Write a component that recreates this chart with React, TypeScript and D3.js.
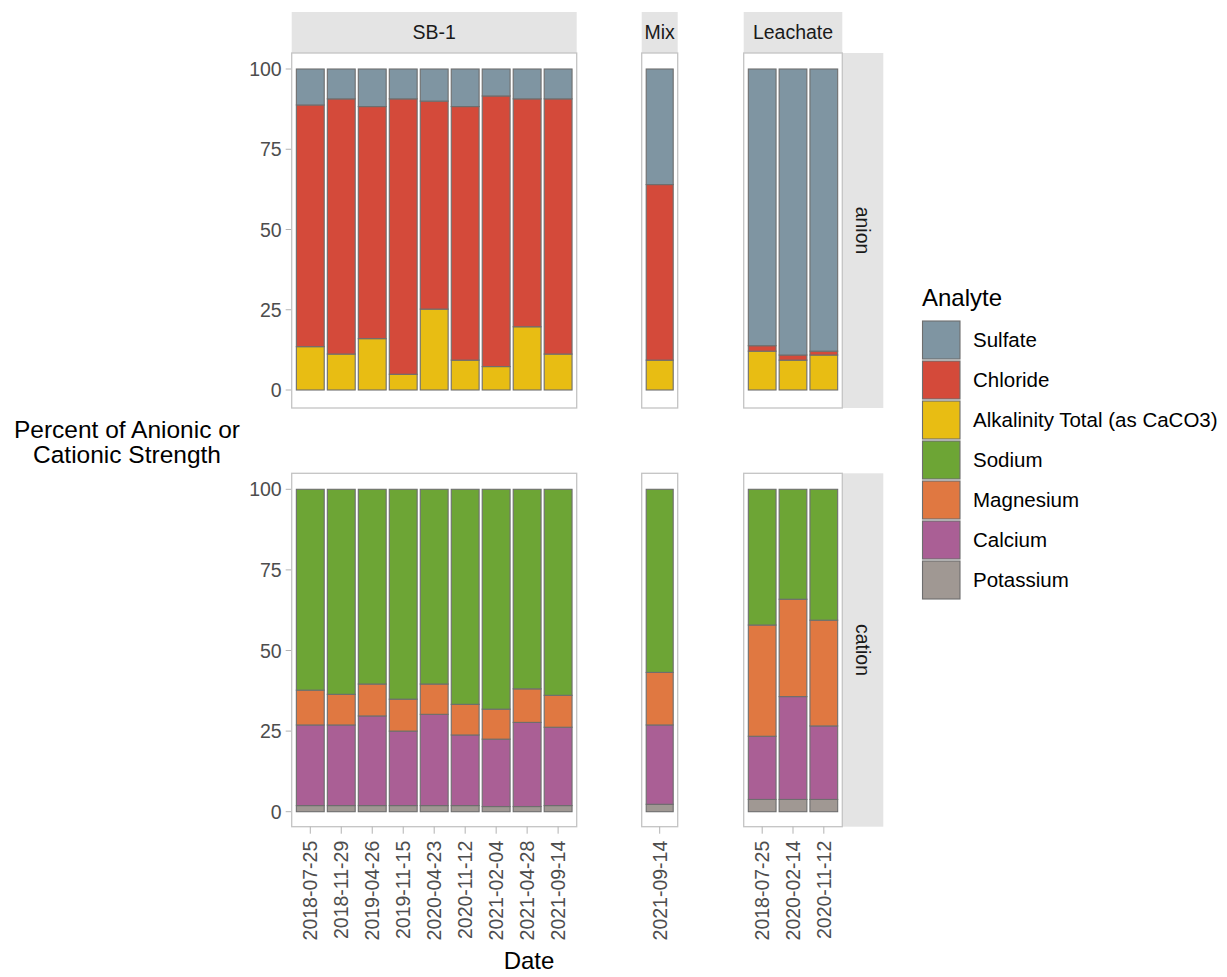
import React from "react";
import * as d3 from "d3";

// bar order (left to right): 9 SB-1 dates, 1 Mix date, 3 Leachate dates
const sites = ["SB-1", "Mix", "Leachate"];
const siteOf = ["SB-1", "SB-1", "SB-1", "SB-1", "SB-1", "SB-1", "SB-1", "SB-1", "SB-1", "Mix", "Leachate", "Leachate", "Leachate"];
const dates = [
  "2018-07-25", "2018-11-29", "2019-04-26", "2019-11-15", "2020-04-23", "2020-11-12", "2021-02-04", "2021-04-28", "2021-09-14",
  "2021-09-14",
  "2018-07-25", "2020-02-14", "2020-11-12",
];

// anion percentages
const alkalinity = [13.5, 11.2, 16.0, 4.9, 25.2, 9.3, 7.3, 19.7, 11.2, 9.3, 12.1, 9.3, 10.9];
const chloride = [75.3, 79.5, 72.3, 85.8, 64.8, 79.0, 84.3, 71.0, 79.5, 54.7, 1.7, 1.6, 1.2];
const sulfate = [11.2, 9.3, 11.7, 9.3, 10.0, 11.7, 8.4, 9.3, 9.3, 36.0, 86.2, 89.1, 87.9];

// cation percentages
const potassium = [1.9, 1.9, 1.9, 1.9, 1.9, 1.9, 1.6, 1.6, 1.9, 2.3, 3.8, 3.8, 3.8];
const calcium = [25.0, 25.0, 27.8, 23.1, 28.3, 21.9, 20.9, 26.1, 24.3, 24.6, 19.6, 31.9, 22.8];
const magnesium = [10.8, 9.5, 9.9, 9.9, 9.4, 9.5, 9.3, 10.4, 9.9, 16.3, 34.5, 30.2, 32.8];
const sodium = [62.3, 63.6, 60.4, 65.1, 60.4, 66.7, 68.2, 61.9, 63.9, 56.8, 42.1, 34.1, 40.6];

const legendNames = ["Sulfate", "Chloride", "Alkalinity Total (as CaCO3)", "Sodium", "Magnesium", "Calcium", "Potassium"];
const legendColors = ["#7F95A2", "#D44A3A", "#E8BD13", "#6DA535", "#E07841", "#AA5F95", "#A09893"];
const yTicks = [0, 25, 50, 75, 100];

const color = d3.scaleOrdinal<string, string>().domain(legendNames).range(legendColors);

const font = "'Liberation Sans', Arial, sans-serif";

// panel geometry
const panelX: Record<string, [number, number]> = {
  "SB-1": [291.7, 576.7],
  Mix: [641.7, 677.7],
  Leachate: [743.7, 842.3],
};
const rows = [
  { name: "anion", top: 53, bottom: 408, y0: 390, y100: 69, keys: ["Alkalinity Total (as CaCO3)", "Chloride", "Sulfate"] },
  { name: "cation", top: 473.3, bottom: 826.7, y0: 811.7, y100: 489.3, keys: ["Potassium", "Calcium", "Magnesium", "Sodium"] },
];

const rowsData = dates.map((d, i) => ({
  id: i,
  date: d,
  site: siteOf[i],
  "Alkalinity Total (as CaCO3)": alkalinity[i],
  Chloride: chloride[i],
  Sulfate: sulfate[i],
  Potassium: potassium[i],
  Calcium: calcium[i],
  Magnesium: magnesium[i],
  Sodium: sodium[i],
}));

export default function App() {
  const stripTop = 12;
  const stripRight = [842.3, 883.3];

  return (
    <svg width={1227} height={977} style={{ position: "absolute", left: 0, top: 0, background: "#fff" }} fontFamily={font}>
      {/* top strips */}
      {sites.map((s) => {
        const [x0, x1] = panelX[s];
        return (
          <g key={s}>
            <rect x={x0} y={stripTop} width={x1 - x0} height={rows[0].top - stripTop} fill="#E4E4E4" />
            <text x={(x0 + x1) / 2} y={39} textAnchor="middle" fontSize={19.5} fill="#1A1A1A">{s}</text>
          </g>
        );
      })}

      {rows.map((row) => {
        const y = d3.scaleLinear().domain([0, 100]).range([row.y0, row.y100]);
        const stacked = d3.stack<any>().keys(row.keys);
        return (
          <g key={row.name}>
            {/* right strip */}
            <rect x={stripRight[0]} y={row.top} width={stripRight[1] - stripRight[0]} height={row.bottom - row.top} fill="#E4E4E4" />
            <text
              transform={`translate(${(stripRight[0] + stripRight[1]) / 2 - 7},${(row.top + row.bottom) / 2}) rotate(90)`}
              textAnchor="middle"
              fontSize={19.5}
              fill="#1A1A1A"
            >
              {row.name}
            </text>

            {/* y axis */}
            {yTicks.map((t) => (
              <g key={t}>
                <line x1={panelX["SB-1"][0] - 6} x2={panelX["SB-1"][0]} y1={y(t)} y2={y(t)} stroke="#B3B3B3" strokeWidth={1} />
                <text x={panelX["SB-1"][0] - 10} y={y(t) + 7} textAnchor="end" fontSize={19.5} fill="#4D4D4D">{t}</text>
              </g>
            ))}

            {sites.map((s) => {
              const [x0, x1] = panelX[s];
              const sub = rowsData.filter((d) => d.site === s);
              const x = d3.scaleBand<number>().domain(sub.map((d) => d.id)).range([x0, x1]).paddingInner(0.1).paddingOuter(0.15);
              const series = stacked(sub);
              return (
                <g key={s}>
                  <rect x={x0} y={row.top} width={x1 - x0} height={row.bottom - row.top} fill="#fff" stroke="#C4C4C4" strokeWidth={1.3} />
                  {series.map((ser) => (
                    <g key={ser.key} fill={color(ser.key)}>
                      {ser.map((p, j) => (
                        <rect
                          key={j}
                          x={x(p.data.id)}
                          width={x.bandwidth()}
                          y={y(p[1])}
                          height={y(p[0]) - y(p[1])}
                          stroke="#6E6E6E"
                          strokeWidth={1.1}
                        />
                      ))}
                    </g>
                  ))}
                  {row.name === "cation" &&
                    sub.map((d) => {
                      const cx = (x(d.id) as number) + x.bandwidth() / 2;
                      return (
                        <g key={d.id}>
                          <line x1={cx} x2={cx} y1={row.bottom} y2={row.bottom + 7} stroke="#B3B3B3" strokeWidth={1} />
                          <text
                            transform={`translate(${cx + 7},${row.bottom + 14}) rotate(-90)`}
                            textAnchor="end"
                            fontSize={19.5}
                            fill="#4D4D4D"
                          >
                            {d.date}
                          </text>
                        </g>
                      );
                    })}
                </g>
              );
            })}
          </g>
        );
      })}

      {/* axis titles */}
      <text x={127} y={438} textAnchor="middle" fontSize={24.5} fill="#000">Percent of Anionic or</text>
      <text x={127} y={463} textAnchor="middle" fontSize={24.5} fill="#000">Cationic Strength</text>
      <text x={529} y={969} textAnchor="middle" fontSize={24} fill="#000">Date</text>

      {/* legend */}
      <text x={922} y={306} fontSize={24} fill="#000">Analyte</text>
      {legendNames.map((n, i) => (
        <g key={n}>
          <rect x={922.5} y={321 + i * 40} width={37.5} height={38} fill={color(n)} stroke="#6E6E6E" strokeWidth={1.1} />
          <text x={973} y={347 + i * 40} fontSize={20.5} fill="#000">{n}</text>
        </g>
      ))}
    </svg>
  );
}
